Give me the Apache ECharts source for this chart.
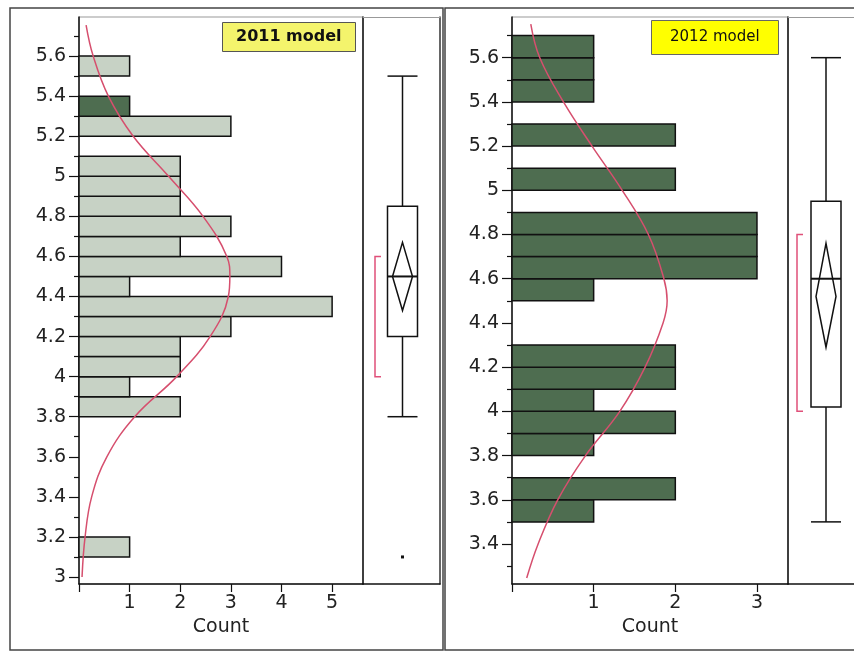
<!DOCTYPE html>
<html>
<head>
<meta charset="utf-8">
<script src="https://cdn.jsdelivr.net/npm/echarts@6/dist/echarts.min.js"></script>
<style>html,body{margin:0;padding:0;background:#fff}#c{width:854px;height:654px}</style>
</head>
<body>
<div id="c"></div>
<script>
// ---------- DATA ----------
// 2011 model
const yTicksL = [3, 3.2, 3.4, 3.6, 3.8, 4, 4.2, 4.4, 4.6, 4.8, 5, 5.2, 5.4, 5.6];
const yMinorL = [3.1, 3.3, 3.5, 3.7, 3.9, 4.1, 4.3, 4.5, 4.7, 4.9, 5.1, 5.3, 5.5, 5.7];
const xTicksL = [0, 1, 2, 3, 4, 5];
const xLabelsL = [1, 2, 3, 4, 5];
const binLowL = [3.1, 3.8, 3.9, 4.0, 4.1, 4.2, 4.3, 4.4, 4.5, 4.6, 4.7, 4.8, 4.9, 5.0, 5.2, 5.3, 5.5];
const countsL = [1, 2, 1, 2, 2, 3, 5, 1, 4, 2, 3, 2, 2, 2, 3, 1, 1];
const highlightL = [0, 0, 0, 0, 0, 0, 0, 0, 0, 0, 0, 0, 0, 0, 0, 1, 0];
const curveYL = [3.0, 3.2, 3.4, 3.6, 3.8, 4.0, 4.2, 4.4, 4.5, 4.6, 4.8, 5.0, 5.2, 5.4, 5.6, 5.755];
const curveXL = [0.06, 0.12, 0.25, 0.55, 1.1, 1.93, 2.59, 2.95, 2.98, 2.92, 2.45, 1.77, 1.07, 0.58, 0.28, 0.14];
const boxStatsL = [3.8, 4.2, 4.5, 4.85, 5.5];      // low whisker, q1, median, q3, high whisker
const meanDiamondL = [4.33, 4.5, 4.67];           // lower CI, mean, upper CI
const shortestHalfL = [4.0, 4.6];
const outliersL = [3.1];

// 2012 model
const yTicksR = [3.4, 3.6, 3.8, 4, 4.2, 4.4, 4.6, 4.8, 5, 5.2, 5.4, 5.6];
const yMinorR = [3.3, 3.5, 3.7, 3.9, 4.1, 4.3, 4.5, 4.7, 4.9, 5.1, 5.3, 5.5, 5.7];
const xTicksR = [0, 1, 2, 3];
const xLabelsR = [1, 2, 3];
const binLowR = [3.5, 3.6, 3.8, 3.9, 4.0, 4.1, 4.2, 4.5, 4.6, 4.7, 4.8, 5.0, 5.2, 5.4, 5.5, 5.6];
const countsR = [1, 2, 1, 2, 1, 2, 2, 1, 3, 3, 3, 2, 2, 1, 1, 1];
const curveYR = [3.246, 3.4, 3.6, 3.8, 4.0, 4.2, 4.4, 4.5, 4.6, 4.8, 5.0, 5.2, 5.4, 5.6, 5.752];
const curveXR = [0.18, 0.32, 0.56, 0.90, 1.32, 1.63, 1.85, 1.90, 1.86, 1.67, 1.35, 0.98, 0.63, 0.34, 0.23];
const boxStatsR = [3.5, 4.02, 4.6, 4.95, 5.6];
const meanDiamondR = [4.29, 4.52, 4.76];
const shortestHalfR = [4.0, 4.8];
const outliersR = [];

const titles = ['2011 model', '2012 model'];
const binWidth = 0.1;

// ---------- LAYOUT / STYLE ----------
const FONT = 'DejaVu Sans';
const LIGHT = '#c7d2c5', DARK = '#4e6d50', CURVE = '#d64f6e', BRACKET = '#e0507a';
const boxPos = [ {c: 39.5, hw: 15, dw: 10, br: 12, bt: 6}, {c: 38, hw: 15, dw: 10, br: 9, bt: 6} ];

const chart = echarts.init(document.getElementById('c'), null, {renderer: 'canvas'});

function histY(gridIndex, min, max, ticks, minor) {
  return [
    { type: 'value', gridIndex, min, max, position: 'left',
      axisLine: {show: true, onZero: false, lineStyle: {color: '#111', width: 1.5}},
      axisTick: {show: true, length: 10, customValues: ticks, lineStyle: {color: '#111', width: 1.2}},
      axisLabel: {show: true, customValues: ticks, margin: 13, fontFamily: FONT, fontSize: 19, color: '#222'},
      splitLine: {show: false} },
    { type: 'value', gridIndex, min, max, position: 'left',
      axisLine: {show: false, onZero: false},
      axisTick: {show: true, length: 5, customValues: minor, lineStyle: {color: '#111', width: 1.2}},
      axisLabel: {show: false, customValues: minor},
      splitLine: {show: false} }
  ];
}
function boxY(gridIndex, min, max, rightLine) {
  return [
    { type: 'value', gridIndex, min, max, position: 'left',
      axisLine: {show: true, onZero: false, lineStyle: {color: '#111', width: 1.5}},
      axisTick: {show: false}, axisLabel: {show: false}, splitLine: {show: false} },
    { type: 'value', gridIndex, min, max, position: 'right',
      axisLine: {show: rightLine, onZero: false, lineStyle: {color: '#333', width: 1.5}},
      axisTick: {show: false}, axisLabel: {show: false}, splitLine: {show: false} }
  ];
}

function histX(gridIndex, max, ticks, labels) {
  return { type: 'value', gridIndex, min: 0, max,
    name: 'Count', nameLocation: 'middle', nameGap: 33,
    nameTextStyle: {fontFamily: FONT, fontSize: 19, color: '#222'},
    axisLine: {onZero: false, lineStyle: {color: '#111', width: 1.5}},
    axisTick: {length: 8, customValues: ticks, lineStyle: {color: '#111', width: 1.2}},
    axisLabel: {customValues: labels, margin: 10, fontFamily: FONT, fontSize: 19, color: '#222'},
    splitLine: {show: false} };
}
function boxX(gridIndex, max, pos, color) {
  return { type: 'value', gridIndex, min: 0, max, position: pos,
    axisLine: {onZero: false, lineStyle: {color, width: pos === 'top' ? 1 : 1.5}}, axisTick: {show: false}, axisLabel: {show: false},
    splitLine: {show: false} };
}

function barsData(lows, counts, hl) {
  return lows.map((lo, i) => [lo, lo + binWidth, counts[i], hl ? hl[i] : 1]);
}
function barSeries(xi, yi, data) {
  return { type: 'custom', xAxisIndex: xi, yAxisIndex: yi, data, z: 2,
    renderItem: function (params, api) {
      const p0 = api.coord([0, api.value(1)]);
      const p1 = api.coord([api.value(2), api.value(0)]);
      return { type: 'rect', shape: {x: p0[0], y: p0[1], width: p1[0] - p0[0], height: p1[1] - p0[1]},
        style: {fill: api.value(3) ? DARK : LIGHT, stroke: '#111', lineWidth: 1.5} };
    } };
}
function curveSeries(xi, yi, xs, ys) {
  return { type: 'line', xAxisIndex: xi, yAxisIndex: yi, data: ys.map((y, i) => [xs[i], y]),
    smooth: 0.4, symbol: 'none', z: 5, lineStyle: {color: CURVE, width: 1.5} };
}
function boxSeries(xi, yi, stats, diamond, half, outl, pos) {
  return { type: 'custom', xAxisIndex: xi, yAxisIndex: yi, data: [[0]], z: 3,
    renderItem: function (params, api) {
      const P = (x, v) => api.coord([x, v]);
      const c = pos.c, hw = pos.hw;
      const ch = [];
      const line = (a, b, color, w) => ({type: 'line', shape: {x1: a[0], y1: a[1], x2: b[0], y2: b[1]}, style: {stroke: color || '#111', lineWidth: w || 1.5}});
      ch.push(line(P(c, stats[0]), P(c, stats[1])));
      ch.push(line(P(c, stats[3]), P(c, stats[4])));
      ch.push(line(P(c - hw, stats[0]), P(c + hw, stats[0])));
      ch.push(line(P(c - hw, stats[4]), P(c + hw, stats[4])));
      const tl = P(c - hw, stats[3]), br = P(c + hw, stats[1]);
      ch.push({type: 'rect', shape: {x: tl[0], y: tl[1], width: br[0] - tl[0], height: br[1] - tl[1]}, style: {fill: '#fff', stroke: '#111', lineWidth: 1.5}});
      ch.push(line(P(c - hw, stats[2]), P(c + hw, stats[2]), '#111', 2));
      ch.push({type: 'polygon', shape: {points: [P(c, diamond[2]), P(c + pos.dw, diamond[1]), P(c, diamond[0]), P(c - pos.dw, diamond[1])]}, style: {fill: 'none', stroke: '#111', lineWidth: 1.5}});
      ch.push({type: 'polyline', shape: {points: [P(pos.br + pos.bt, half[1]), P(pos.br, half[1]), P(pos.br, half[0]), P(pos.br + pos.bt, half[0])]}, style: {fill: 'none', stroke: BRACKET, lineWidth: 1.5}});
      outl.forEach(v => { const o = P(c, v); ch.push({type: 'rect', shape: {x: o[0] - 1.5, y: o[1] - 1.5, width: 3, height: 3}, style: {fill: '#111'}}); });
      return {type: 'group', children: ch};
    } };
}

const option = {
  backgroundColor: '#fff',
  animation: false,
  title: [
    { text: titles[0], left: 222, top: 22, backgroundColor: '#f4f46c', borderColor: '#555', borderWidth: 1, padding: [5, 14],
      textStyle: {fontFamily: FONT, fontWeight: 'bold', fontSize: 16, lineHeight: 20, color: '#111'} },
    { text: titles[1], left: 651, top: 20, backgroundColor: '#ffff00', borderColor: '#666', borderWidth: 1, padding: [8, 19],
      textStyle: {fontFamily: FONT, fontWeight: 'normal', fontSize: 15, lineHeight: 19, color: '#111'} }
  ],
  graphic: [
    { type: 'rect', z: -10, silent: true, shape: {x: 10, y: 8, width: 433, height: 642}, style: {fill: 'none', stroke: '#444', lineWidth: 1.5} },
    { type: 'rect', z: -10, silent: true, shape: {x: 445, y: 8, width: 440, height: 642}, style: {fill: 'none', stroke: '#444', lineWidth: 1.5} }
  ],
  grid: [
    { left: 79, top: 17, width: 284, height: 567, show: true, borderColor: '#999', borderWidth: 1 },
    { left: 363, top: 17, width: 77, height: 567, show: false },
    { left: 512, top: 17, width: 276, height: 567, show: true, borderColor: '#999', borderWidth: 1 },
    { left: 788, top: 17, width: 66, height: 567, show: false }
  ],
  xAxis: [
    histX(0, 5.61, xTicksL, xLabelsL),
    boxX(1, 77, 'bottom', '#111'),
    histX(2, 3.38, xTicksR, xLabelsR),
    boxX(3, 66, 'bottom', '#111'),
    boxX(1, 77, 'top', '#999'),
    boxX(3, 66, 'top', '#999')
  ],
  yAxis: [
    ...histY(0, 2.965, 5.795, yTicksL, yMinorL),
    ...boxY(1, 2.965, 5.795, true),
    ...histY(2, 3.219, 5.784, yTicksR, yMinorR),
    ...boxY(3, 3.219, 5.784, false)
  ],
  series: [
    barSeries(0, 0, barsData(binLowL, countsL, highlightL)),
    curveSeries(0, 0, curveXL, curveYL),
    boxSeries(1, 2, boxStatsL, meanDiamondL, shortestHalfL, outliersL, boxPos[0]),
    barSeries(2, 4, barsData(binLowR, countsR, null)),
    curveSeries(2, 4, curveXR, curveYR),
    boxSeries(3, 6, boxStatsR, meanDiamondR, shortestHalfR, outliersR, boxPos[1])
  ]
};
chart.setOption(option);
</script>
</body>
</html>
